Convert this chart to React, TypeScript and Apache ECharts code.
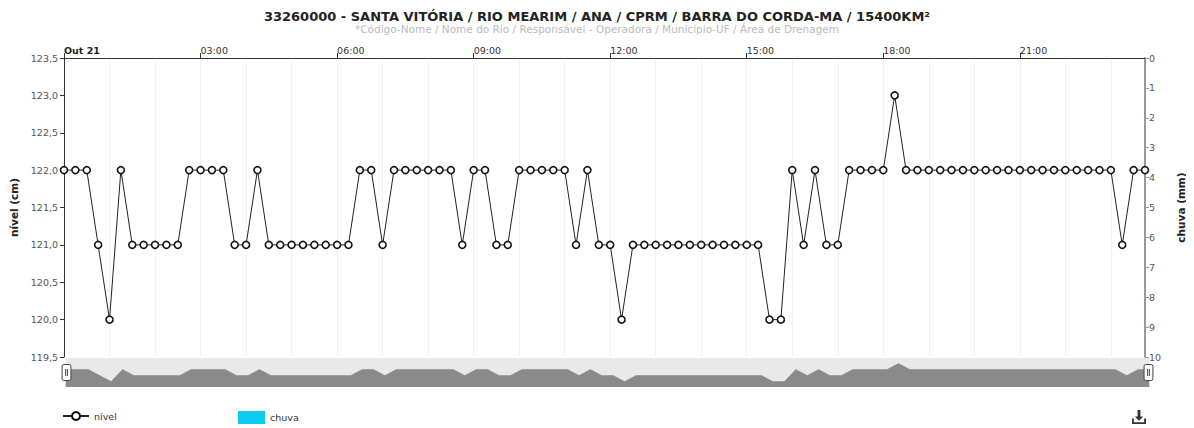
import React, { useEffect, useRef } from "react";
import * as echarts from "echarts";

const titleText = "33260000 - SANTA VITÓRIA / RIO MEARIM / ANA / CPRM / BARRA DO CORDA-MA / 15400KM²";
const subtitleText = "*Código-Nome / Nome do Rio / Responsável - Operadora / Município-UF / Área de Drenagem";

const times = [
  "00:00","00:15","00:30","00:45","01:00","01:15","01:30","01:45",
  "02:00","02:15","02:30","02:45","03:00","03:15","03:30","03:45",
  "04:00","04:15","04:30","04:45","05:00","05:15","05:30","05:45",
  "06:00","06:15","06:30","06:45","07:00","07:15","07:30","07:45",
  "08:00","08:15","08:30","08:45","09:00","09:15","09:30","09:45",
  "10:00","10:15","10:30","10:45","11:00","11:15","11:30","11:45",
  "12:00","12:15","12:30","12:45","13:00","13:15","13:30","13:45",
  "14:00","14:15","14:30","14:45","15:00","15:15","15:30","15:45",
  "16:00","16:15","16:30","16:45","17:00","17:15","17:30","17:45",
  "18:00","18:15","18:30","18:45","19:00","19:15","19:30","19:45",
  "20:00","20:15","20:30","20:45","21:00","21:15","21:30","21:45",
  "22:00","22:15","22:30","22:45","23:00","23:15","23:30","23:45",
];

const nivel = [
  122, 122, 122, 121, 120, 122, 121, 121,
  121, 121, 121, 122, 122, 122, 122, 121,
  121, 122, 121, 121, 121, 121, 121, 121,
  121, 121, 122, 122, 121, 122, 122, 122,
  122, 122, 122, 121, 122, 122, 121, 121,
  122, 122, 122, 122, 122, 121, 122, 121,
  121, 120, 121, 121, 121, 121, 121, 121,
  121, 121, 121, 121, 121, 121, 120, 120,
  122, 121, 122, 121, 121, 122, 122, 122,
  122, 123, 122, 122, 122, 122, 122, 122,
  122, 122, 122, 122, 122, 122, 122, 122,
  122, 122, 122, 122, 122, 121, 122, 122,
];

const chuva = [
  0, 0, 0, 0, 0, 0, 0, 0, 0, 0, 0, 0, 0, 0, 0, 0,
  0, 0, 0, 0, 0, 0, 0, 0, 0, 0, 0, 0, 0, 0, 0, 0,
  0, 0, 0, 0, 0, 0, 0, 0, 0, 0, 0, 0, 0, 0, 0, 0,
  0, 0, 0, 0, 0, 0, 0, 0, 0, 0, 0, 0, 0, 0, 0, 0,
  0, 0, 0, 0, 0, 0, 0, 0, 0, 0, 0, 0, 0, 0, 0, 0,
  0, 0, 0, 0, 0, 0, 0, 0, 0, 0, 0, 0, 0, 0, 0, 0,
];

const firstLabel = "Out 21";
const FONT = "DejaVu Sans";

export default function App() {
  const ref = useRef<HTMLDivElement>(null);
  useEffect(() => {
    if (!ref.current) return;
    const chart = echarts.init(ref.current, null, { renderer: "svg" });
    const every = (n: number) => (idx: number) => idx % n === 0;
    chart.setOption({
      animation: false,
      textStyle: { fontFamily: FONT },
      title: {
        text: titleText,
        subtext: subtitleText,
        left: "center",
        top: 5,
        itemGap: 0,
        textStyle: { fontFamily: FONT, fontSize: 13, fontWeight: "bold", color: "#222" },
        subtextStyle: { fontFamily: FONT, fontSize: 10.5, color: "#bbb" },
      },
      grid: { left: 63, right: 47, top: 58, bottom: 71, containLabel: false },
      xAxis: {
        type: "category",
        position: "top",
        boundaryGap: false,
        data: times,
        axisLine: { lineStyle: { color: "#333", width: 1 } },
        axisTick: { show: true, interval: every(12), length: 5, lineStyle: { color: "#333" } },
        axisLabel: {
          interval: every(12),
          align: "left",
          margin: 3,
          fontSize: 9.5,
          color: "#333",
          formatter: (v: string, i: number) => (i === 0 ? "{b|" + firstLabel + "}" : v),
          rich: { b: { fontWeight: "bold", fontSize: 9.5, color: "#222", fontFamily: FONT } },
        },
        splitLine: { show: true, interval: every(4), lineStyle: { color: "#f2f2f2", width: 1 } },
      },
      yAxis: [
        {
          type: "value",
          min: 119.5,
          max: 123.5,
          interval: 0.5,
          name: "nível (cm)",
          nameLocation: "middle",
          nameRotate: 90,
          nameGap: 45,
          nameTextStyle: { fontWeight: "bold", fontSize: 10.5, color: "#222", fontFamily: FONT },
          axisLine: { show: true, lineStyle: { color: "#333", width: 1 } },
          axisTick: { show: true, length: 4, lineStyle: { color: "#333" } },
          axisLabel: {
            fontSize: 9.5,
            color: "#555",
            margin: 6,
            formatter: (v: number) => v.toFixed(1).replace(".", ","),
          },
          splitLine: { show: false },
        },
        {
          type: "value",
          min: 0,
          max: 10,
          interval: 1,
          inverse: true,
          position: "right",
          name: "chuva (mm)",
          nameLocation: "middle",
          nameRotate: 90,
          nameGap: 30,
          nameTextStyle: { fontWeight: "bold", fontSize: 10.5, color: "#222", fontFamily: FONT },
          axisLine: { show: true, lineStyle: { color: "#999", width: 2 } },
          axisTick: { show: true, length: 4, lineStyle: { color: "#999" } },
          axisLabel: { fontSize: 9.5, color: "#555", margin: 4 },
          splitLine: { show: false },
        },
      ],
      dataZoom: [
        {
          type: "slider",
          xAxisIndex: 0,
          start: 0,
          end: 100,
          left: 63,
          right: 47,
          top: 358,
          height: 29,
          showDetail: false,
          brushSelect: false,
          moveHandleSize: 0,
          borderColor: "transparent",
          backgroundColor: "#e9e9e9",
          fillerColor: "rgba(0,0,0,0)",
          dataBackground: {
            lineStyle: { color: "#8a8a8a", width: 0.5, opacity: 1 },
            areaStyle: { color: "#8a8a8a", opacity: 1 },
          },
          selectedDataBackground: {
            lineStyle: { color: "#8a8a8a", width: 0.5, opacity: 1 },
            areaStyle: { color: "#8a8a8a", opacity: 1 },
          },
          handleIcon:
            "path://M2,0 h6 a2,2 0 0 1 2,2 v14 a2,2 0 0 1 -2,2 h-6 a2,2 0 0 1 -2,-2 v-14 a2,2 0 0 1 2,-2 z M4,5 v8 M6,5 v8",
          handleSize: "55%",
          handleStyle: { color: "#fff", borderColor: "#444", borderWidth: 1 },
          emphasis: { handleStyle: { color: "#fff", borderColor: "#444" } },
        },
      ],
      legend: [
        {
          data: ["nível"],
          left: 62,
          top: 411,
          padding: 0,
          itemWidth: 26,
          itemHeight: 10,
          textStyle: { fontSize: 9.5, color: "#333", fontFamily: FONT },
        },
        {
          data: [{ name: "chuva", icon: "rect" }],
          left: 238,
          top: 411,
          padding: 0,
          itemWidth: 27,
          itemHeight: 13,
          textStyle: { fontSize: 9.5, color: "#333", fontFamily: FONT },
        },
      ],
      toolbox: {
        right: 48,
        top: 410,
        padding: 0,
        itemSize: 14,
        feature: {
          saveAsImage: {
            title: "",
            icon: "path://M6,0 h3 v7 h3 l-4.5,4.5 l-4.5,-4.5 h3 z M0,9 h2 v4 h11 v-4 h2 v6 h-15 z",
          },
        },
        iconStyle: { color: "#333", borderColor: "#333", borderWidth: 0 },
      },
      series: [
        {
          name: "nível",
          type: "line",
          data: nivel,
          yAxisIndex: 0,
          symbol: "circle",
          symbolSize: 7,
          showAllSymbol: true,
          lineStyle: { color: "#222", width: 1 },
          itemStyle: { color: "#fff", borderColor: "#111", borderWidth: 1.6 },
          emphasis: { disabled: true },
        },
        {
          name: "chuva",
          type: "bar",
          data: chuva,
          yAxisIndex: 1,
          itemStyle: { color: "#0acbf0" },
        },
      ],
    });
    return () => chart.dispose();
  }, []);
  return <div ref={ref} style={{ width: 1194, height: 428, marginLeft: -8, marginTop: -8 }} />;
}
